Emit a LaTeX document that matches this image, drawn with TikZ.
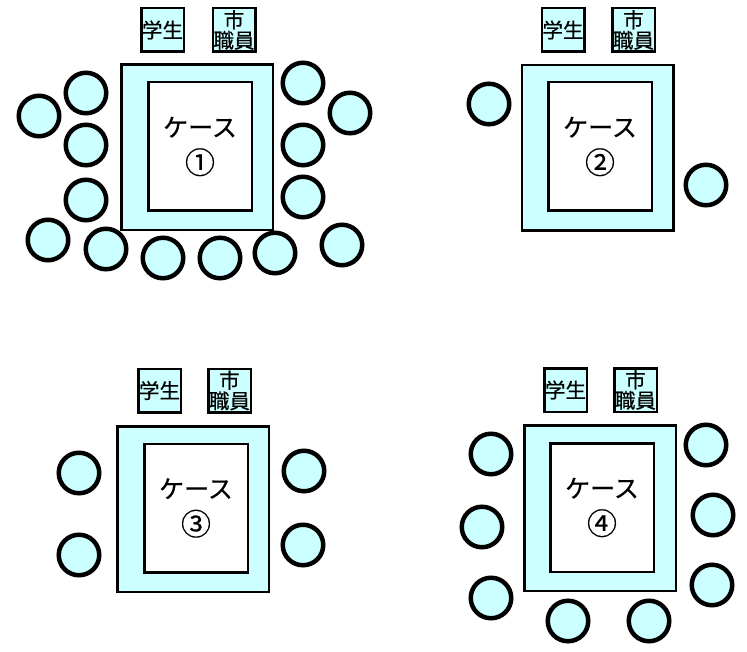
\documentclass[tikz,border=0pt]{standalone}
\usepackage{fontspec}
\setmainfont{Noto Sans CJK JP}[FakeBold=0.5]
\usepackage{tikz}
\definecolor{seatcyan}{HTML}{CCFFFF}
\newcommand{\bignum}[1]{{\fontsize{30}{37}\selectfont #1}}
\tikzset{
    tablebox/.style={draw=black, line width=2.5pt, fill=seatcyan, minimum width=151.5pt, minimum height=165.5pt, inner sep=0pt},
    casebox/.style={draw=black, line width=2.5pt, fill=white, minimum width=103.5pt, minimum height=128.5pt, inner sep=0pt, align=center, font=\fontsize{25}{37}\selectfont},
    tagbox/.style={draw=black, line width=2.5pt, fill=seatcyan, minimum width=42.5pt, minimum height=43.5pt, inner sep=0pt, align=center, font=\fontsize{20.5}{20.5}\selectfont},
    seat/.style={circle, draw=black, line width=4.5pt, fill=seatcyan, minimum size=40.5pt, inner sep=0pt}
}

\begin{document}
\begin{tikzpicture}[x=1pt, y=-1pt]
    \useasboundingbox (0,0) rectangle (747,652);

    % case 1
    \node[tablebox] (tab1) at (197,147.5) {};
    \node[casebox] (case1) at (200,146.5) {ケース\\\bignum{①}};
    \node[tagbox] (stu1) at (162.5,30) {学生};
    \node[tagbox] (staff1) at (234,30) {市\\職員};
    \foreach \x/\y [count=\i] in {86/93, 39/116, 86/145, 86/200, 48/240, 106/249, 163/258, 220/258, 275/253, 342/245, 303/83, 350/113, 303/145, 303/197}
      \node[seat] (seatA\i) at (\x,\y) {};

    % case 2
    \node[tablebox] (tab2) at (597.5,148) {};
    \node[casebox] (case2) at (600,146.5) {ケース\\\bignum{②}};
    \node[tagbox] (stu2) at (563,30) {学生};
    \node[tagbox] (staff2) at (633.5,30) {市\\職員};
    \foreach \x/\y [count=\i] in {489/104, 706/185}
      \node[seat] (seatB\i) at (\x,\y) {};

    % case 3
    \node[tablebox] (tab3) at (193,509) {};
    \node[casebox] (case3) at (196,508) {ケース\\\bignum{③}};
    \node[tagbox] (stu3) at (159.5,390.5) {学生};
    \node[tagbox] (staff3) at (229.5,390.5) {市\\職員};
    \foreach \x/\y [count=\i] in {79/473, 79/555, 304/471, 303/545}
      \node[seat] (seatC\i) at (\x,\y) {};

    % case 4
    \node[tablebox] (tab4) at (600,508) {};
    \node[casebox] (case4) at (602,507.5) {ケース\\\bignum{④}};
    \node[tagbox] (stu4) at (565.5,390) {学生};
    \node[tagbox] (staff4) at (635.5,390) {市\\職員};
    \foreach \x/\y [count=\i] in {491/454, 482/527, 491/598, 568/621, 649/621, 706/445, 713/515, 712/585}
      \node[seat] (seatD\i) at (\x,\y) {};
  \end{tikzpicture}
\end{document}
